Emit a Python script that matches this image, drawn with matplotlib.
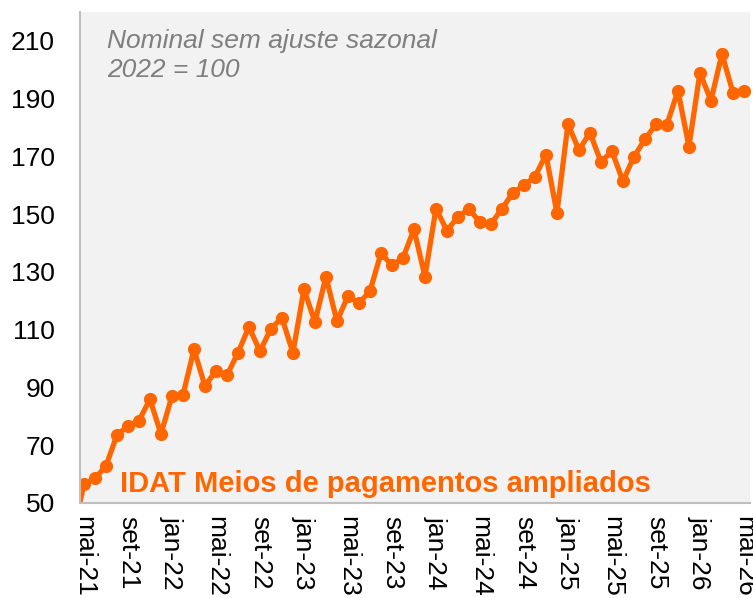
import matplotlib
matplotlib.use("Agg")
import matplotlib.pyplot as plt
import numpy as np

plt.rcParams['font.family'] = ['Liberation Sans', 'DejaVu Sans']

# monthly index, abr-21 .. mai-26 (abr-21 sits just left of the axis and gets clipped)
months = ['abr-21',
          'mai-21', 'jun-21', 'jul-21', 'ago-21', 'set-21', 'out-21', 'nov-21', 'dez-21',
          'jan-22', 'fev-22', 'mar-22', 'abr-22', 'mai-22', 'jun-22', 'jul-22', 'ago-22',
          'set-22', 'out-22', 'nov-22', 'dez-22',
          'jan-23', 'fev-23', 'mar-23', 'abr-23', 'mai-23', 'jun-23', 'jul-23', 'ago-23',
          'set-23', 'out-23', 'nov-23', 'dez-23',
          'jan-24', 'fev-24', 'mar-24', 'abr-24', 'mai-24', 'jun-24', 'jul-24', 'ago-24',
          'set-24', 'out-24', 'nov-24', 'dez-24',
          'jan-25', 'fev-25', 'mar-25', 'abr-25', 'mai-25', 'jun-25', 'jul-25', 'ago-25',
          'set-25', 'out-25', 'nov-25', 'dez-25',
          'jan-26', 'fev-26', 'mar-26', 'abr-26', 'mai-26']
idat = [39.0,
        56.6, 58.5, 62.8, 73.5, 76.7, 78.5, 85.9, 73.9,
        87.0, 87.3, 103.2, 90.5, 95.8, 94.2, 102.0, 111.0,
        102.5, 110.4, 114.1, 102.0,
        124.0, 112.6, 128.4, 112.9, 121.7, 119.2, 123.3, 136.5,
        132.3, 134.8, 144.8, 128.4,
        151.9, 144.3, 149.1, 151.7, 147.3, 146.6, 151.9, 157.4,
        160.0, 163.0, 170.6, 150.4,
        181.2, 172.2, 178.2, 168.1, 171.8, 161.4, 169.9, 175.9,
        181.1, 181.0, 192.8, 173.4,
        199.0, 189.3, 205.5, 192.1, 192.8]
tick_labels = ['mai-21', 'set-21', 'jan-22', 'mai-22', 'set-22', 'jan-23', 'mai-23', 'set-23',
               'jan-24', 'mai-24', 'set-24', 'jan-25', 'mai-25', 'set-25', 'jan-26', 'mai-26']
yticks = [50, 70, 90, 110, 130, 150, 170, 190, 210]

x = np.arange(len(months)) - 1  # mai-21 = 0

fig = plt.figure(figsize=(7.53, 5.98), dpi=100)
ax = fig.add_axes([80 / 753, 95 / 598, 670 / 753, 491 / 598])
ax.set_facecolor('#F2F2F2')

orange = '#FF6600'
ax.plot(x, idat, color=orange, lw=3.8, marker='o', ms=8.5, solid_joinstyle='round')

ax.set_xlim(-0.36, 60.55)
ax.set_ylim(50, 220)
ax.set_yticks(yticks)
ax.set_yticklabels([str(v) for v in yticks], fontsize=19)
ax.set_xticks([months.index(m) - 1 for m in tick_labels])
ax.set_xticklabels(tick_labels, rotation=270, fontsize=19)
ax.tick_params(length=0)
ax.tick_params(axis='y', pad=18)
ax.tick_params(axis='x', pad=9)

for s in ['top', 'right']:
    ax.spines[s].set_visible(False)
for s in ['left', 'bottom']:
    ax.spines[s].set_color('#BFBFBF')
    ax.spines[s].set_linewidth(1.5)

ax.text(0.040, 0.966, 'Nominal sem ajuste sazonal\n2022 = 100', transform=ax.transAxes,
        ha='left', va='top', fontsize=19, style='italic', color='#7F7F7F', linespacing=1.3)
ax.text(0.060, 0.038, 'IDAT Meios de pagamentos ampliados', transform=ax.transAxes,
        ha='left', va='center', fontsize=21, fontweight='bold', color=orange)

fig.savefig('out.png', dpi=100)
